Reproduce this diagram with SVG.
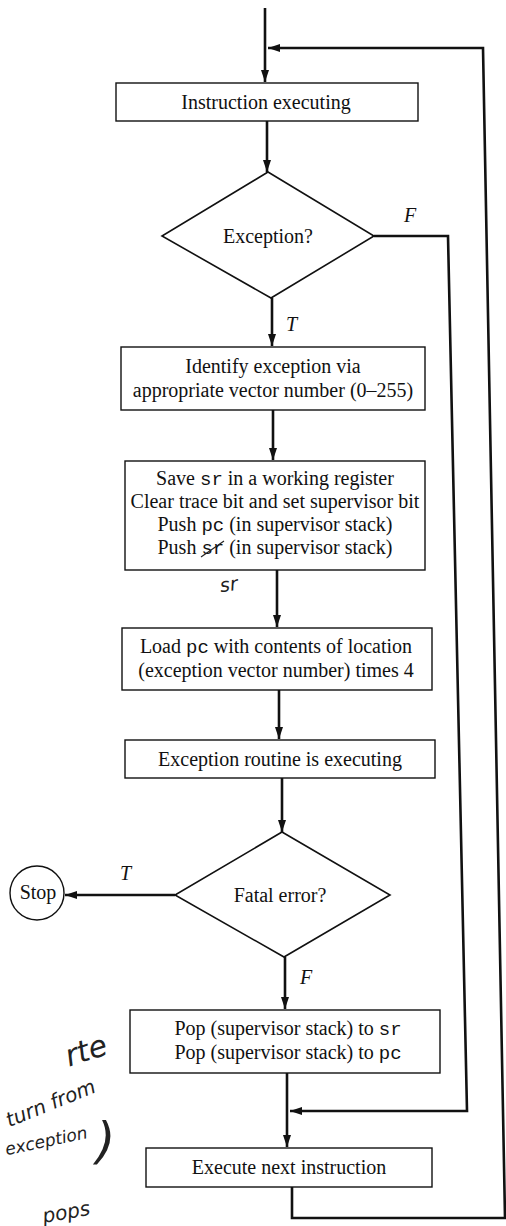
<svg xmlns="http://www.w3.org/2000/svg" width="506" height="1226" viewBox="0 0 506 1226">
  <defs>
    <marker id="arrow" viewBox="0 0 12 8" refX="12" refY="4" markerWidth="12" markerHeight="8" markerUnits="userSpaceOnUse" orient="auto">
      <path d="M0,0 L12,4 L0,8 Z" fill="#111"/>
    </marker>
    <style>
      .box { fill: #fff; stroke: #111; stroke-width: 1.4; }
      .dia { fill: #fff; stroke: #111; stroke-width: 1.6; }
      .wire { fill: none; stroke: #111; stroke-width: 2.6; }
      .lbl { font-family: "Liberation Serif", "Times New Roman", serif; font-size: 20px; fill: #111; text-anchor: middle; }
      .mono { font-family: "Liberation Mono", "Courier New", monospace; font-size: 19px; }
      .tf { font-family: "Liberation Serif", "Times New Roman", serif; font-size: 20px; font-style: italic; fill: #111; }
      .hand { font-family: "DejaVu Sans", sans-serif; font-style: italic; font-weight: 300; fill: #222; }
    </style>
  </defs>
  <rect width="506" height="1226" fill="#fff"/>

  <!-- connectors -->
  <g id="connectors">
    <path class="wire" d="M265,8 V82" marker-end="url(#arrow)"/>
    <path class="wire" d="M292,1187 V1218 H505 L483,48 H268" marker-end="url(#arrow)"/>
    <path class="wire" d="M267,121 V172" marker-end="url(#arrow)"/>
    <path class="wire" d="M374,236 H448 L467,1111 H290" marker-end="url(#arrow)"/>
    <path class="wire" d="M272,298 V346" marker-end="url(#arrow)"/>
    <path class="wire" d="M273,410 V460" marker-end="url(#arrow)"/>
    <path class="wire" d="M277,570 V627" marker-end="url(#arrow)"/>
    <path class="wire" d="M279,690 V739" marker-end="url(#arrow)"/>
    <path class="wire" d="M282,778 V832" marker-end="url(#arrow)"/>
    <path class="wire" d="M175,895 H65" marker-end="url(#arrow)"/>
    <path class="wire" d="M285,957 V1009" marker-end="url(#arrow)"/>
    <path class="wire" d="M287,1073 V1147" marker-end="url(#arrow)"/>
    <text class="tf" x="404" y="222">F</text>
    <text class="tf" x="286" y="331">T</text>
    <text class="tf" x="120" y="880">T</text>
    <text class="tf" x="300" y="984">F</text>
  </g>

  <g id="instruction-executing">
    <rect class="box" x="116" y="83" width="302" height="38"/>
    <text class="lbl" x="266" y="109">Instruction executing</text>
  </g>

  <g id="exception-test">
    <polygon class="dia" points="268,172 374,236 271,298 162,236"/>
    <text class="lbl" x="268" y="243">Exception?</text>
  </g>

  <g id="identify-exception">
    <rect class="box" x="121" y="347" width="304" height="63"/>
    <text class="lbl" x="273" y="373">Identify exception via</text>
    <text class="lbl" x="273" y="397">appropriate vector number (0–255)</text>
  </g>

  <g id="save-state">
    <rect class="box" x="125" y="461" width="300" height="109"/>
    <text class="lbl" x="275" y="485">Save <tspan class="mono">sr</tspan> in a working register</text>
    <text class="lbl" x="275" y="508">Clear trace bit and set supervisor bit</text>
    <text class="lbl" x="275" y="531">Push <tspan class="mono">pc</tspan> (in supervisor stack)</text>
    <text class="lbl" x="275" y="554">Push <tspan class="mono">sr</tspan> (in supervisor stack)</text>
    <!-- pen stroke over the second sr, and the pen note below the box -->
    <path d="M201,557 L224,541" fill="none" stroke="#222" stroke-width="1.2"/>
    <text class="hand" x="220" y="590" font-size="19" transform="rotate(-8 236 585)">sr</text>
  </g>

  <g id="load-pc">
    <rect class="box" x="122" y="628" width="310" height="62"/>
    <text class="lbl" x="276" y="653">Load <tspan class="mono">pc</tspan> with contents of location</text>
    <text class="lbl" x="276" y="677">(exception vector number) times 4</text>
  </g>

  <g id="exception-routine">
    <rect class="box" x="125" y="740" width="310" height="38"/>
    <text class="lbl" x="280" y="766">Exception routine is executing</text>
  </g>

  <g id="fatal-test">
    <polygon class="dia" points="282,832 390,895 284,957 175,895"/>
    <text class="lbl" x="280" y="902">Fatal error?</text>
  </g>

  <g id="stop">
    <circle cx="37" cy="893" r="27" fill="#fff" stroke="#111" stroke-width="1.4"/>
    <text class="lbl" x="38" y="899">Stop</text>
  </g>

  <g id="restore-state">
    <rect class="box" x="130" y="1010" width="310" height="63"/>
    <text class="lbl" x="288" y="1035">Pop (supervisor stack) to <tspan class="mono">sr</tspan></text>
    <text class="lbl" x="288" y="1059">Pop (supervisor stack) to <tspan class="mono">pc</tspan></text>
  </g>

  <g id="next-instruction">
    <rect class="box" x="146" y="1148" width="286" height="39"/>
    <text class="lbl" x="289" y="1174">Execute next instruction</text>
  </g>

  <!-- pen notes in the left margin -->
  <g id="margin-notes">
    <text class="hand" x="64" y="1060" font-size="30" transform="rotate(-18 88 1048)">rte</text>
    <text class="hand" x="2" y="1110" font-size="20" transform="rotate(-22 50 1100)">turn from</text>
    <text class="hand" x="4" y="1148" font-size="17" transform="rotate(-12 40 1140)">exception</text>
    <text class="hand" x="96" y="1158" font-size="50" font-weight="200">)</text>
    <text class="hand" x="42" y="1220" font-size="20" transform="rotate(-10 60 1212)">pops</text>
  </g>
</svg>
